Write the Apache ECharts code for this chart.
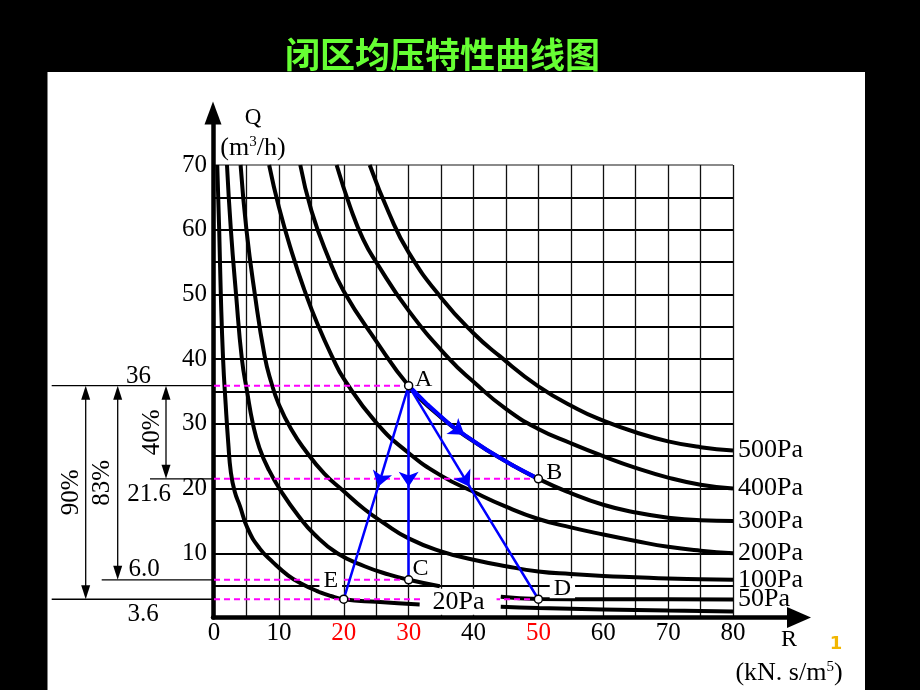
<!DOCTYPE html>
<html>
<head>
<meta charset="utf-8">
<script src="https://cdn.jsdelivr.net/npm/echarts@6.0.0/dist/echarts.min.js"></script>
<style>
html,body{margin:0;padding:0;background:#000;}
#chart{width:920px;height:690px;}
</style>
</head>
<body>
<div id="chart"></div>
<script>
// ---------------- data ----------------
const titleText = '闭区均压特性曲线图';
const rRedTicks = [20, 30, 50];
const curveLabels = ['500Pa', '400Pa', '300Pa', '200Pa', '100Pa', '50Pa', '20Pa'];
const curve500 = [[24,70],[27,62.5],[30,56.5],[35,49.5],[40,44],[44,40.5],[50,35.8],[56,32.3],[60,30.5],[65,28.7],[70,27.3],[75,26.4],[80,25.9]];
const curve400 = [[18.9,70],[21,63.5],[23,58.5],[25,55],[30,47.5],[36.3,40],[40,36.5],[45,32.3],[50,29.2],[55,27],[60,25],[65,23.2],[70,21.7],[75,20.6],[80,20]];
const curve300 = [[13.3,70],[15,63],[17.5,56],[20,50.5],[25,42.8],[30,35.9],[35,31],[40,27.3],[45,24.2],[50,21.5],[55,19.3],[60,17.5],[65,16.3],[70,15.5],[75,15.1],[80,15]];
const curve200 = [[8.5,70],[10,63.5],[12,56.5],[14,50.5],[16,45.3],[18.3,40.2],[20,37],[25,30.2],[30,25.5],[35,22],[40,19.5],[45,17.2],[50,15.3],[55,14],[60,12.9],[65,11.9],[70,11],[75,10.4],[80,10]];
const curve100 = [[4.1,70],[5,60],[6.3,50],[7.8,40.5],[8.8,36.5],[10,33],[12,29],[14,26],[17,22.3],[20,19.6],[23.2,16.8],[26,14.8],[30,12.3],[35,10.3],[40,9.0],[45,8],[50,7.2],[55,6.8],[60,6.5],[65,6.3],[70,6.1],[75,6],[80,5.9]];
const curve50Left = [[2.0,70],[2.6,60],[3.4,50],[4.3,40],[5.1,35],[6,30],[7,26.3],[8.5,22.8],[10.4,19.5],[13,15.8],[15.5,12.9],[19,10],[23.2,8.0],[27,6.7],[30,5.9],[34.8,4.9]];
const curve50Right = [[44.2,3.3],[50,2.95],[60,2.9],[70,2.88],[80,2.86]];
const curve20Left = [[0.5,70],[0.8,60],[1.05,50],[1.4,40],[1.8,33],[2.2,27],[2.6,22.5],[3.2,19.5],[4,17.3],[5.2,13.8],[7,10.8],[9.1,8.6],[11.4,6.6],[13.5,5.3],[15.8,4.2],[18,3.4],[20,2.9],[25,2.5],[31.7,2.1]];
const curve20Right = [[44.2,1.75],[50,1.55],[60,1.33],[70,1.15],[80,1.0]];
const curve20LabelAt = [37.7, 2.5];

const pointNames = ['A', 'B', 'C', 'D', 'E'];
const pointR = [30, 50, 30, 50, 20];
const pointQ = [35.9, 21.5, 5.9, 2.9, 2.9];

const levelLabels = ['36', '21.6', '6.0', '3.6'];
const levelQ = [35.9, 21.5, 5.9, 2.9];
const levelDashEndR = [30, 50, 30, 50];
const percentLabels = ['90%', '83%', '40%'];
const percentFromLevel = [0, 0, 0];
const percentToLevel = [3, 2, 1];

const pathAB1 = [[30,35.9],[33,32.9],[36,30.2],[38.6,28.3]];
const pathAB2 = [[38.6,28.3],[42,26],[46,23.6],[50,21.5]];
const arrowMidQ = 20.3;
const arrowMidR = [25.3, 30, 39.4];          // A->E, A->C, A->D
const arrowTargets = [[20, 2.9], [30, 5.9], [50, 2.9]];

// ---------------- chart ----------------
const SERIF = '"Liberation Serif","DejaVu Serif","Times New Roman",serif';
const BLUE = '#0000ff', MAG = '#ff00ff';
const chart = echarts.init(document.getElementById('chart'), null, {renderer: 'canvas', width: 920, height: 690});

function curve(data, label) {
  return {
    type: 'line', xAxisIndex: 0, yAxisIndex: 0, data: data, smooth: 0.5,
    symbol: 'none', silent: true, z: 3,
    lineStyle: {color: '#000', width: 4},
    endLabel: label ? {show: true, formatter: label, color: '#000', fontFamily: SERIF, fontSize: 26, distance: 5} : {show: false}
  };
}
const series = [
  curve(curve500, curveLabels[0]),
  curve(curve400, curveLabels[1]),
  curve(curve300, curveLabels[2]),
  curve(curve200, curveLabels[3]),
  curve(curve100, curveLabels[4]),
  curve(curve50Left, null),
  curve(curve50Right, curveLabels[5]),
  curve(curve20Left, null),
  curve(curve20Right, null)
];
// magenta dashed reference lines
levelQ.forEach(function (q, i) {
  series.push({type: 'line', xAxisIndex: 0, yAxisIndex: 0, symbol: 'none', silent: true, z: 5,
    data: [[0, q], [levelDashEndR[i], q]],
    lineStyle: {color: MAG, width: 2, type: [6, 4]}});
});
// blue flow lines (straight segments; arrowheads at the end of the "arrow" segments)
const A = [pointR[0], pointQ[0]];
const arrowLines = [];
const plainLines = [];
for (let i = 0; i < pathAB1.length - 1; i++) {
  const seg = {coords: [pathAB1[i], pathAB1[i + 1]], lineStyle: {width: 4}};
  if (i === pathAB1.length - 2) arrowLines.push(seg); else plainLines.push(seg);
}
for (let i = 0; i < pathAB2.length - 1; i++) {
  plainLines.push({coords: [pathAB2[i], pathAB2[i + 1]], lineStyle: {width: 4}});
}
arrowMidR.forEach(function (r, i) {
  arrowLines.push({coords: [A, [r, arrowMidQ]]});
  plainLines.push({coords: [[r, arrowMidQ], arrowTargets[i]]});
});
series.push({type: 'lines', coordinateSystem: 'cartesian2d', xAxisIndex: 0, yAxisIndex: 0,
  symbol: ['none', 'arrow'], symbolSize: 15, z: 6, silent: true,
  lineStyle: {color: BLUE, width: 2.5, opacity: 1, curveness: 0}, data: arrowLines});
series.push({type: 'lines', coordinateSystem: 'cartesian2d', xAxisIndex: 0, yAxisIndex: 0,
  symbol: 'none', z: 6, silent: true,
  lineStyle: {color: BLUE, width: 2.5, opacity: 1, curveness: 0, cap: 'round'}, data: plainLines});
// 20Pa label in the middle of the plot
series.push({type: 'scatter', xAxisIndex: 0, yAxisIndex: 0, symbolSize: 0, z: 8, silent: true,
  itemStyle: {opacity: 1},
  data: [{value: curve20LabelAt}],
  label: {show: true, position: 'inside', formatter: curveLabels[6], color: '#000', opacity: 1, fontFamily: SERIF, fontSize: 26,
    textBorderWidth: 0, lineHeight: 24, backgroundColor: '#fff', padding: [1, 12]}});
// points A..E
const labelOffsets = {A: [15, -6], B: [16, -6], C: [12, -11], D: [24, -11], E: [-13, -19]};
series.push({type: 'scatter', xAxisIndex: 0, yAxisIndex: 0, z: 10, silent: true,
  symbol: 'circle', symbolSize: 8,
  itemStyle: {color: '#fff', borderColor: '#000', borderWidth: 1.5, opacity: 1},
  data: pointNames.map(function (n, i) {
    return {name: n, value: [pointR[i], pointQ[i]],
      label: {show: true, formatter: n, position: 'inside', offset: labelOffsets[n], color: '#000', opacity: 1,
        textBorderWidth: 0, fontFamily: SERIF, fontSize: 24, lineHeight: 20,
        backgroundColor: (n === 'E' || n === 'D') ? '#fff' : 'transparent', padding: [0, 4]}};
  })});

const hColors = [];
for (let i = 0; i < 15; i++) hColors.push(i === 14 ? '#8a8a8a' : '#000');

chart.setOption({
  animation: false,
  backgroundColor: 'transparent',
  grid: [
    {left: 214, top: 165, right: 187, bottom: 72, containLabel: false},
    {left: 213, top: 113, right: 121, bottom: 72.5, containLabel: false}
  ],
  xAxis: [
    {type: 'value', gridIndex: 0, min: 0, max: 80, interval: 5,
      axisLine: {show: false}, axisTick: {show: false},
      axisLabel: {margin: 3, fontSize: 25, fontFamily: SERIF,
        formatter: function (v) { return v % 10 === 0 ? String(v) : ''; },
        color: function (v) { return rRedTicks.indexOf(Number(v)) >= 0 ? '#ff0000' : '#000'; }},
      splitLine: {show: true, lineStyle: {color: '#111', width: 1.3}}},
    {type: 'value', gridIndex: 1, min: 0, max: 1,
      axisLine: {show: true, symbol: ['none', 'triangle'], symbolSize: [21, 24], lineStyle: {color: '#000', width: 4.5}},
      axisTick: {show: false}, axisLabel: {show: false}, splitLine: {show: false}}
  ],
  yAxis: [
    {type: 'value', gridIndex: 0, min: 0, max: 70, interval: 5,
      axisLine: {show: false}, axisTick: {show: false},
      axisLabel: {margin: 7, fontSize: 25, fontFamily: SERIF, color: '#000',
        formatter: function (v) { return (v % 10 === 0 && v > 0) ? String(v) : ''; }},
      splitLine: {show: true, lineStyle: {color: hColors, width: 2}}},
    {type: 'value', gridIndex: 1, min: 0, max: 1,
      axisLine: {show: true, symbol: ['none', 'triangle'], symbolSize: [17, 23], lineStyle: {color: '#000', width: 4.5}},
      axisTick: {show: false}, axisLabel: {show: false}, splitLine: {show: false}}
  ],
  series: series
});

// ---------------- annotations (positions from the axes' scales) ----------------
function yPix(q) { return chart.convertToPixel({xAxisIndex: 0, yAxisIndex: 0}, [0, q])[1]; }
const axisX = chart.convertToPixel({xAxisIndex: 0, yAxisIndex: 0}, [0, 0])[0];
const levelY = levelQ.map(yPix);
const levelLineStart = [51.7, 150, 101.7, 51.7];
const levelTextX = [138.5, 149, 144, 143];
const levelTextDy = [-9, 16, -10, 15];
const percentX = [85.7, 117.7, 166];
const percentTextX = [71, 102.5, 152.5];

const g = [];
g.push({type: 'rect', z: -100, shape: {x: 47.5, y: 72, width: 817.5, height: 618}, style: {fill: '#fff'}});
g.push({type: 'text', z: 50, style: {text: titleText, x: 442.5, y: 55, align: 'center', verticalAlign: 'middle',
  fill: '#66ff33', fontSize: 35, fontWeight: 'bold', fontFamily: '"Noto Sans CJK SC","Noto Sans",sans-serif'}});
levelY.forEach(function (y, i) {
  g.push({type: 'line', z: 20, shape: {x1: levelLineStart[i], y1: y, x2: axisX - 2, y2: y},
    style: {stroke: '#000', lineWidth: 1.3}});
  g.push({type: 'text', z: 20, style: {text: levelLabels[i], x: levelTextX[i], y: y + levelTextDy[i],
    align: 'center', verticalAlign: 'middle', fill: '#000', fontSize: 25, fontFamily: SERIF}});
});
percentLabels.forEach(function (t, i) {
  const x = percentX[i], y1 = levelY[percentFromLevel[i]], y2 = levelY[percentToLevel[i]];
  g.push({type: 'line', z: 20, shape: {x1: x, y1: y1 + 6, x2: x, y2: y2 - 6}, style: {stroke: '#000', lineWidth: 1.3}});
  g.push({type: 'polygon', z: 20, shape: {points: [[x, y1], [x - 4.5, y1 + 14], [x + 4.5, y1 + 14]]}, style: {fill: '#000'}});
  g.push({type: 'polygon', z: 20, shape: {points: [[x, y2], [x - 4.5, y2 - 14], [x + 4.5, y2 - 14]]}, style: {fill: '#000'}});
  g.push({type: 'text', z: 20, x: percentTextX[i], y: (y1 + y2) / 2, rotation: Math.PI / 2,
    style: {text: t, x: 0, y: 0, align: 'center', verticalAlign: 'middle', fill: '#000', fontSize: 25, fontFamily: SERIF}});
});
g.push({type: 'text', z: 20, style: {text: 'Q', x: 253, y: 118, align: 'center', verticalAlign: 'middle',
  fill: '#000', fontSize: 23, fontFamily: SERIF}});
g.push({type: 'text', z: 20, style: {text: '(m{s|3}/h)', x: 253, y: 148, align: 'center', verticalAlign: 'middle',
  fill: '#000', fontSize: 26, fontFamily: SERIF,
  rich: {s: {fontSize: 15, fontFamily: SERIF, verticalAlign: 'top', fill: '#000'}}}});
g.push({type: 'text', z: 20, style: {text: 'R', x: 789, y: 640, align: 'center', verticalAlign: 'middle',
  fill: '#000', fontSize: 24, fontFamily: SERIF}});
g.push({type: 'text', z: 20, style: {text: '(kN. s/m{s|5})', x: 789, y: 673, align: 'center', verticalAlign: 'middle',
  fill: '#000', fontSize: 26, fontFamily: SERIF,
  rich: {s: {fontSize: 15, fontFamily: SERIF, verticalAlign: 'top', fill: '#000'}}}});
g.push({type: 'text', z: 20, style: {text: '1', x: 836, y: 644, align: 'center', verticalAlign: 'middle',
  fill: '#f2b600', fontSize: 18, fontWeight: 'bold', fontFamily: '"DejaVu Sans",sans-serif'}});

chart.setOption({graphic: g});
</script>
</body>
</html>
